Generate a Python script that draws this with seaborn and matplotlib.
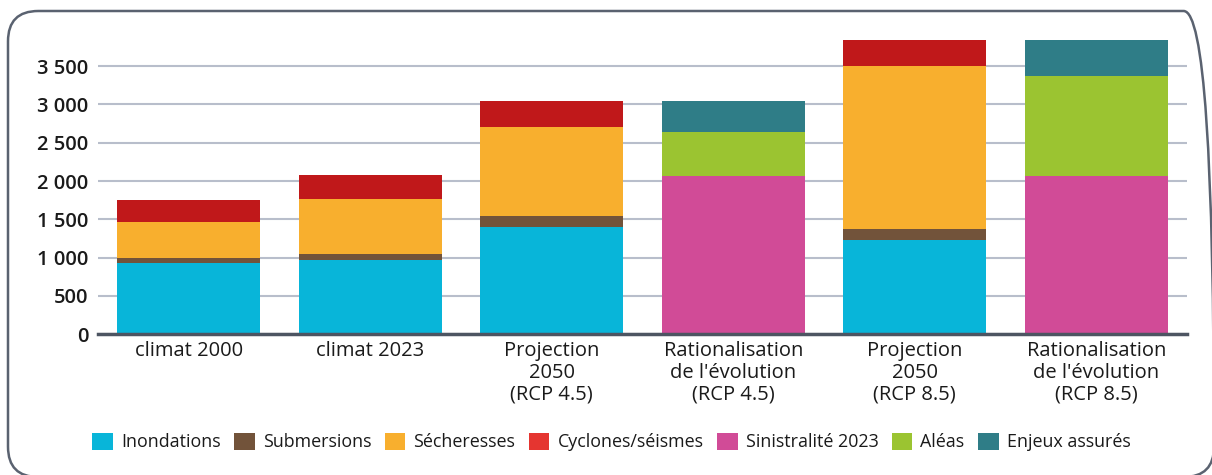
import numpy as np
import pandas as pd
import matplotlib
matplotlib.use("Agg")
import matplotlib.pyplot as plt
from matplotlib.patches import Patch, FancyBboxPatch
import seaborn as sns

categories = ["climat 2000", "climat 2023", "Projection\n2050\n(RCP 4.5)",
              "Rationalisation\nde l'évolution\n(RCP 4.5)", "Projection\n2050\n(RCP 8.5)",
              "Rationalisation\nde l'évolution\n(RCP 8.5)"]
series_names = ["Inondations", "Submersions", "Sécheresses", "Cyclones/séismes",
                "Sinistralité 2023", "Aléas", "Enjeux assurés"]
inondations = [930, 970, 1400, 0, 1235, 0]
submersions = [70, 75, 140, 0, 140, 0]
secheresses = [470, 715, 1160, 0, 2125, 0]
cyclones = [280, 315, 350, 0, 345, 0]
sinistralite = [0, 0, 0, 2070, 0, 2070]
aleas = [0, 0, 0, 565, 0, 1295]
enjeux = [0, 0, 0, 415, 0, 480]
yticks = [0, 500, 1000, 1500, 2000, 2500, 3000, 3500]
ytick_labels = ["0", "500", "1 000", "1 500", "2 000", "2 500", "3 000", "3 500"]

bar_colors = ["#08B5D9", "#72533A", "#F8AF2E", "#C0181A", "#D14B97", "#9BC431", "#2F7D87"]
legend_colors = ["#08B5D9", "#72533A", "#F8AF2E", "#E53530", "#D14B97", "#9BC431", "#2F7D87"]

sns.set_theme(style="white")
plt.rcParams["font.family"] = ["Open Sans", "DejaVu Sans"]

values = np.array([inondations, submersions, secheresses, cyclones, sinistralite, aleas, enjeux], dtype=float)
cum = np.cumsum(values, axis=0)
cum = np.where(values > 0, cum, 0.0)

W, H = 1212, 475
fig = plt.figure(figsize=(W / 100, H / 100), dpi=100)
ax = fig.add_axes([98 / W, 1 - 334.3 / H, (1187 - 98) / W, (334.3 - 39.3) / H])

for k in range(len(series_names) - 1, -1, -1):
    df = pd.DataFrame({"cat": categories, "val": cum[k]})
    sns.barplot(data=df, x="cat", y="val", order=categories, color=bar_colors[k],
                saturation=1, width=0.79, linewidth=0, ax=ax, zorder=3)

ax.set_ylim(0, 3850)
ax.set_xlim(-0.5, 5.5)
ax.set_yticks(yticks)
ax.set_yticklabels(ytick_labels, fontsize=14.5, fontweight="semibold", color="#1A1A1A")
ax.set_xlabel("")
ax.set_ylabel("")
ax.tick_params(axis="x", length=0, pad=5, labelsize=14.5, labelcolor="#1A1A1A")
ax.tick_params(axis="y", length=0, pad=7)
for lab in ax.get_xticklabels():
    lab.set_linespacing(1.1)
ax.yaxis.grid(True, color="#B8BECB", linewidth=1.5, zorder=0)
ax.set_axisbelow(True)
for s in ["top", "right", "left"]:
    ax.spines[s].set_visible(False)
ax.spines["bottom"].set_color("#4D5562")
ax.spines["bottom"].set_linewidth(2.5)
ax.spines["bottom"].set_zorder(5)

handles = [Patch(facecolor=c, edgecolor="none", label=n) for c, n in zip(legend_colors, series_names)]
fig.legend(handles=handles, loc="center", bbox_to_anchor=(0.5045, 1 - 442 / H), ncol=7,
           frameon=False, fontsize=12.9, handlelength=1.15, handleheight=1.15,
           handletextpad=0.45, columnspacing=0.75, labelcolor="#1A1A1A")

frame = FancyBboxPatch((8 / W, -2 / H), 1206 / W, 466 / H,
                       boxstyle="round,pad=0,rounding_size=0.025",
                       transform=fig.transFigure, facecolor="none",
                       edgecolor="#5A6270", linewidth=1.8, mutation_aspect=W / H)
fig.patches.append(frame)

fig.savefig("out.png", dpi=100)
